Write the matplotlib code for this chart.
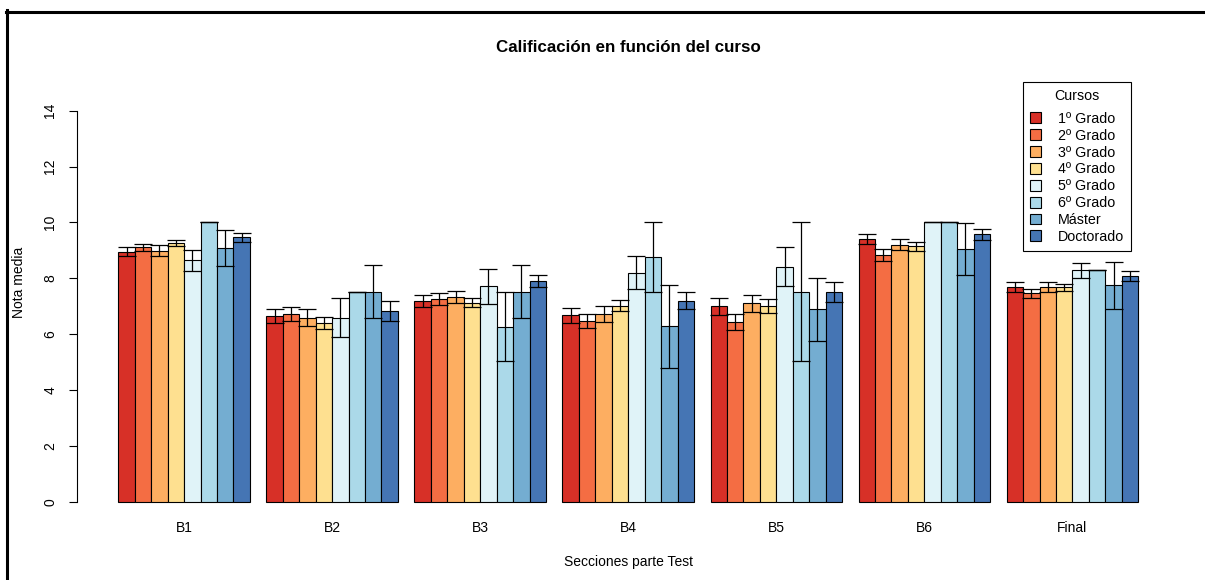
"""
Calificación media por sección y curso
Barras agrupadas con barras de error (media ± error)
"""
import numpy as np
import matplotlib.pyplot as plt
import matplotlib
from matplotlib.patches import Patch
from matplotlib.lines import Line2D

matplotlib.rcParams['font.family'] = ['Liberation Sans', 'DejaVu Sans']

secciones = ['B1', 'B2', 'B3', 'B4', 'B5', 'B6', 'Final']
cursos = ['1º Grado', '2º Grado', '3º Grado', '4º Grado',
          '5º Grado', '6º Grado', 'Máster', 'Doctorado']
colores = ['#D73027', '#F46D43', '#FDAE61', '#FEE090',
           '#E0F3F8', '#ABD9E9', '#74ADD1', '#4575B4']

# nota media: una fila por curso, una columna por sección
media_1 = [8.95, 6.65, 7.19, 6.67, 6.99, 9.41, 7.68]
media_2 = [9.11, 6.71, 7.25, 6.46, 6.42, 8.83, 7.46]
media_3 = [8.99, 6.59, 7.32, 6.71, 7.10, 9.20, 7.68]
media_4 = [9.26, 6.40, 7.13, 7.02, 7.00, 9.14, 7.67]
media_5 = [8.65, 6.59, 7.72, 8.20, 8.42, 10.0, 8.28]
media_6 = [10.0, 7.52, 6.27, 8.77, 7.52, 10.0, 8.31]
media_m = [9.08, 7.52, 7.52, 6.28, 6.89, 9.06, 7.75]
media_d = [9.47, 6.82, 7.89, 7.20, 7.51, 9.57, 8.08]

# semiamplitud de las barras de error
err_1 = [0.17, 0.26, 0.22, 0.26, 0.29, 0.17, 0.17]
err_2 = [0.12, 0.25, 0.21, 0.25, 0.29, 0.22, 0.15]
err_3 = [0.19, 0.30, 0.22, 0.29, 0.30, 0.20, 0.17]
err_4 = [0.11, 0.23, 0.16, 0.20, 0.24, 0.15, 0.12]
err_5 = [0.38, 0.69, 0.63, 0.58, 0.70, 0.00, 0.27]
err_6 = [0.00, 0.00, 1.25, 1.25, 2.50, 0.00, 0.00]
err_m = [0.65, 0.95, 0.95, 1.49, 1.12, 0.93, 0.85]
err_d = [0.16, 0.36, 0.21, 0.30, 0.36, 0.20, 0.17]

medias = np.array([media_1, media_2, media_3, media_4,
                   media_5, media_6, media_m, media_d])
errores = np.array([err_1, err_2, err_3, err_4,
                    err_5, err_6, err_m, err_d])

W, H = 1205, 580
fig = plt.figure(figsize=(W / 100, H / 100), dpi=100)

# región de dibujo en píxeles (estilo barplot de R)
x0, x1, y0, y1 = 77.5, 1179, 95.1, 517.3
ax = fig.add_axes([x0 / W, 1 - y1 / H, (x1 - x0) / W, (y1 - y0) / H])

n_cursos, n_secc = medias.shape
paso = n_cursos + 1  # hueco de una barra entre grupos

for i in range(n_cursos):
    xs = np.arange(n_secc) * paso + 1 + i + 0.5
    ax.bar(xs, medias[i], width=1, color=colores[i],
           edgecolor='black', linewidth=0.8, zorder=2)
    ax.errorbar(xs, medias[i], yerr=errores[i], fmt='none',
                ecolor='black', elinewidth=0.9, capsize=6.2,
                capthick=0.9, zorder=3)

total = n_secc * paso
margen = (total - 1) * 0.04
ax.set_xlim(1 - margen, total + margen)
ax.set_ylim(-0.56, 14.56)

centros = np.arange(n_secc) * paso + 1 + n_cursos / 2
ax.set_xticks(centros)
ax.set_xticklabels(secciones, fontsize=10)
ax.tick_params(axis='x', length=0, pad=3)

ax.set_yticks(np.arange(0, 15, 2))
ax.set_yticklabels([str(v) for v in range(0, 15, 2)],
                   rotation=90, va='center', fontsize=10)
ax.tick_params(axis='y', length=5.5, width=0.8, pad=9)

for s in ['top', 'right', 'bottom']:
    ax.spines[s].set_visible(False)
ax.spines['left'].set_bounds(0, 14)
ax.spines['left'].set_linewidth(0.8)

fig.text(628.5 / W, 1 - 48 / H, 'Calificación en función del curso',
         ha='center', va='center', fontsize=12.2, fontweight='bold')
fig.text(628.5 / W, 1 - 562 / H, 'Secciones parte Test',
         ha='center', va='center', fontsize=10)
fig.text(19 / W, 1 - 282.5 / H, 'Nota media', rotation=90,
         ha='center', va='center', fontsize=10)

handles = [Patch(facecolor=c, edgecolor='black', linewidth=0.8) for c in colores]
leg = fig.legend(handles, cursos, title='Cursos', loc='upper left',
                 bbox_to_anchor=(1022.7 / W, 1 - 82.3 / H),
                 fontsize=10.3, title_fontsize=10.3, frameon=True,
                 fancybox=False, edgecolor='black', framealpha=1,
                 handlelength=0.8, handleheight=0.8, handletextpad=1.15,
                 labelspacing=0.2, borderpad=0.5, borderaxespad=0)
leg.get_frame().set_linewidth(0.8)
# algo más de aire entre el título de la leyenda y las entradas
leg._legend_box.sep = 6

# marco de la captura: líneas superior e izquierda
fig.add_artist(Line2D([6 / W, 1], [1 - 11.5 / H, 1 - 11.5 / H],
                      color='black', linewidth=2.2, transform=fig.transFigure))
fig.add_artist(Line2D([7.5 / W, 7.5 / W], [0, 1 - 10 / H],
                      color='black', linewidth=2.2, transform=fig.transFigure))

fig.savefig('out.png', dpi=100)
plt.close(fig)
